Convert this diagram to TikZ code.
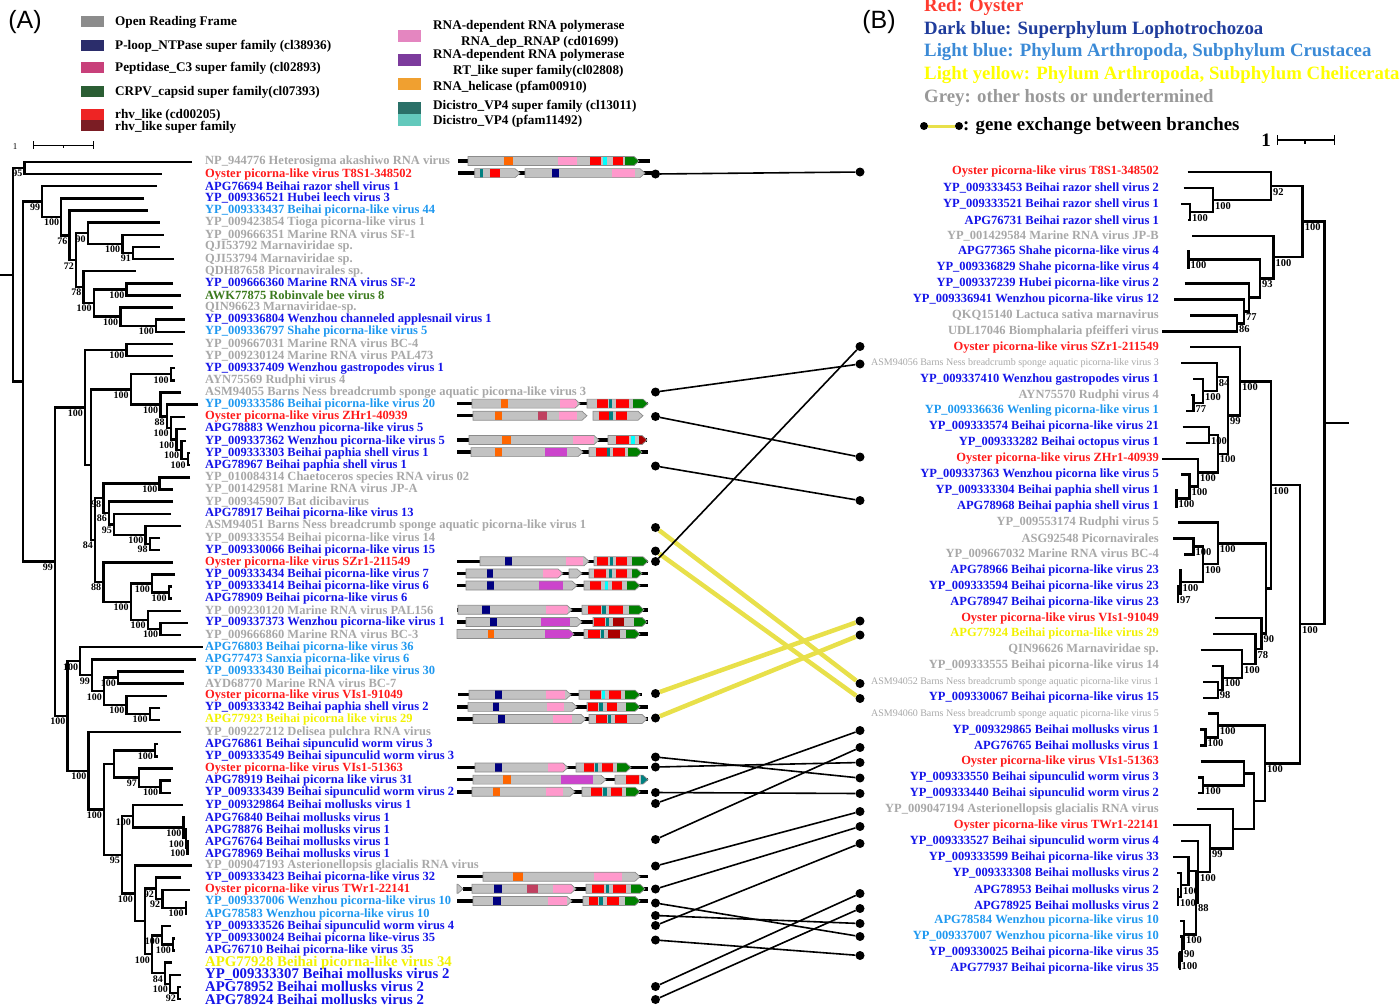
\documentclass[tikz,border=0pt]{standalone}
\usepackage{fontspec}
\setmainfont{Liberation Serif}
\newfontfamily\panelfont{Liberation Sans}
\usetikzlibrary{calc}

% host colours
\definecolor{oyster}{HTML}{FF1A1A}
\definecolor{lopho}{HTML}{1414E8}
\definecolor{crust}{HTML}{1E98F0}
\definecolor{chelic}{HTML}{F2F200}
\definecolor{other}{HTML}{A8A8A8}
\definecolor{insect}{HTML}{3C7A1E}
% genome map colours
\definecolor{orfgrey}{HTML}{C2C2C2}
\definecolor{orfedge}{HTML}{8C8C8C}
\definecolor{helic}{HTML}{FF6600}
\definecolor{rdrp}{HTML}{FF99CC}
\definecolor{rtlike}{HTML}{CC44CC}
\definecolor{rhv}{HTML}{FF0000}
\definecolor{rhvsup}{HTML}{AA0000}
\definecolor{vpfour}{HTML}{008080}
\definecolor{vplight}{HTML}{00FFFF}
\definecolor{capsid}{HTML}{008000}
\definecolor{ploop}{HTML}{000080}
\definecolor{pept}{HTML}{C04060}
% key colours
\definecolor{kgrey}{HTML}{8C8C8C}
\definecolor{knavy}{HTML}{2B2D6B}
\definecolor{kpept}{HTML}{C8407A}
\definecolor{kcapsid}{HTML}{2B5E34}
\definecolor{krhv}{HTML}{EE2424}
\definecolor{krhvsup}{HTML}{7B1D24}
\definecolor{kpink}{HTML}{E486C0}
\definecolor{kpurple}{HTML}{7C3B9C}
\definecolor{korange}{HTML}{F0A030}
\definecolor{kteal}{HTML}{2A7068}
\definecolor{klteal}{HTML}{63C9BC}
\definecolor{kred}{HTML}{FF3B2F}
\definecolor{kblue}{HTML}{1F3C9C}
\definecolor{klblue}{HTML}{3B8AD6}
\definecolor{kyellow}{HTML}{FFFF00}
\definecolor{khost}{HTML}{999999}
\definecolor{gx}{HTML}{E8E04A}

\tikzset{
  branch/.style={line width=2.4pt},
  lab/.style={anchor=west, inner sep=0pt, font=\fontsize{12.5}{13}\selectfont\bfseries},
  labbig/.style={anchor=west, inner sep=0pt, font=\fontsize{14.8}{15}\selectfont\bfseries},
  rlab/.style={anchor=east, inner sep=0pt, font=\fontsize{12.5}{13}\selectfont\bfseries},
  rsmall/.style={anchor=east, inner sep=0pt, font=\fontsize{10}{10}\selectfont},
  keytext/.style={anchor=west, inner sep=0pt, font=\fontsize{13.2}{14}\selectfont\bfseries},
  hosttext/.style={anchor=west, inner sep=0pt, font=\fontsize{18.8}{19}\selectfont\bfseries},
  panel/.style={inner sep=0pt, font=\fontsize{25}{26}\selectfont\panelfont},
  backbone/.style={line width=3.5pt},
  orfline/.style={draw=orfedge, line width=0.7pt},
  dot/.style={circle, fill=black, inner sep=0pt, minimum size=9pt},
  link/.style={line width=1.6pt},
  xlink/.style={line width=4.5pt, gx},
}

\newcommand\ly[1]{162+12.13*(#1-1)}
\newcommand\ry[1]{172+15.93*(#1-1)}
\newcommand\fork[5]{%
  \path let \p1=($(#3)!.5!(#4)$), \p2=(#2,0) in coordinate (#1) at (\x2,\y1);
  \draw[branch] (#3) -| (#1) |- (#4);
  \node[boot] at (#1) {#5};}
\newcommand\gmap[5]{%
  \pgfmathsetmacro\gy{162+12.13*(#1-1)-1}
  \draw[backbone] (#2,\gy) -- (#3,\gy);
  \begin{scope}
    \clip foreach \a/\b in {#4} {(\a,{\gy-4.5}) -- ({\b-5},{\gy-4.5}) -- (\b,\gy) -- ({\b-5},{\gy+4.5}) -- (\a,{\gy+4.5}) -- cycle};
    \fill[orfgrey] (440,{\gy-6}) rectangle (660,{\gy+6});
    \foreach \a/\b/\c in {#5} {\fill[\c] (\a,{\gy-4.5}) rectangle (\b,{\gy+4.5});}
  \end{scope}
  \draw[orfline] foreach \a/\b in {#4} {(\a,{\gy-4.5}) -- ({\b-5},{\gy-4.5}) -- (\b,\gy) -- ({\b-5},{\gy+4.5}) -- (\a,{\gy+4.5}) -- cycle};}

\begin{document}
\begin{tikzpicture}[x=1pt,y=-1pt]
\useasboundingbox (0,0) rectangle (1400,1005);

% (A) key
\node[panel] (pa) at (25,22) {(A)};
\foreach \y/\c/\s in {16/kgrey/Open Reading Frame, 40/knavy/P-loop\_NTPase super family (cl38936),
    62/kpept/Peptidase\_C3 super family (cl02893), 86/kcapsid/CRPV\_capsid super family(cl07393)}
  {\fill[\c] (81,\y) rectangle (104,\y+11);
   \node[keytext] at (115,\y+6) {\s};}
\fill[krhv] (81,109) rectangle (104,120);
\fill[krhvsup] (81,120) rectangle (104,131);
\node[keytext] at (115,115.5) {rhv\_like (cd00205)};
\node[keytext] at (115,127.5) {rhv\_like super family};
\fill[kpink] (398,30) rectangle (421,42);
\node[keytext] at (433,26.5) {RNA-dependent RNA polymerase};
\node[keytext] at (461,42.5) {RNA\_dep\_RNAP (cd01699)};
\fill[kpurple] (398,54) rectangle (421,66);
\node[keytext] at (433,55) {RNA-dependent RNA polymerase};
\node[keytext] at (453,71) {RT\_like super family(cl02808)};
\fill[korange] (398,78) rectangle (421,90);
\node[keytext] at (433,87) {RNA\_helicase (pfam00910)};
\fill[kteal] (398,102) rectangle (421,114);
\fill[klteal] (398,114) rectangle (421,126);
\node[keytext] at (433,106.5) {Dicistro\_VP4 super family (cl13011)};
\node[keytext] at (433,121) {Dicistro\_VP4 (pfam11492)};

% (B) key
\node[panel] (pb) at (879,22) {(B)};
\node[hosttext, text=kred] at (924,7.5) {Red: Oyster};
\node[hosttext, text=kblue] at (924,30) {Dark blue: Superphylum Lophotrochozoa};
\node[hosttext, text=klblue] at (924,52.5) {Light blue: Phylum Arthropoda, Subphylum Crustacea};
\node[hosttext, text=kyellow] at (924,75) {Light yellow: Phylum Arthropoda, Subphylum Chelicerata};
\node[hosttext, text=khost] at (924,98) {Grey: other hosts or undertermined};
\node[dot, minimum size=8pt] (ka) at (924,126) {};
\node[dot, minimum size=8pt] (kb) at (959,126) {};
\draw[line width=3pt, gx] (ka) -- (kb);
\node[hosttext] at (963,126) {: gene exchange between branches};

% scale bars
\node[inner sep=0pt, font=\fontsize{9}{9}\selectfont] at (15,147) {1};
\draw[line width=1pt] (33,141) -- (33,149) (33,145) -- (93,145) (93,141) -- (93,149) (63,145) -- (63,148);
\node[inner sep=0pt, font=\fontsize{19}{19}\selectfont\bfseries] at (1266,140) {1};
\draw[line width=1.3pt] (1277.5,135) -- (1277.5,145) (1277.5,140) -- (1334.5,140) (1334.5,135) -- (1334.5,145) (1305,140) -- (1305,144);

% left tree leaves
\foreach \r/\t/\c/\s in {
 1/192/other/{NP\_944776 Heterosigma akashiwo RNA virus},
 2/161.6/oyster/{Oyster picorna-like virus T8S1-348502},
 3/157/lopho/{APG76694 Beihai razor shell virus 1},
 4/144.3/lopho/{YP\_009336521 Hubei leech virus 3},
 5/147.7/crust/{YP\_009333437 Beihai picorna-like virus 44},
 6/159.5/other/{YP\_009423854 Tioga picorna-like virus 1},
 7/163.7/other/{YP\_009666351 Marine RNA virus SF-1},
 8/159.5/other/{QJI53792 Marnaviridae sp.},
 9/173.8/other/{QJI53794 Marnaviridae sp.},
 10/135.9/other/{QDH87658 Picornavirales sp.},
 11/173/lopho/{YP\_009666360 Marine RNA virus SF-2},
 12/181.4/insect/{AWK77875 Robinvale bee virus 8},
 13/173/other/{QIN96623 Marnaviridae-sp.},
 14/184.8/lopho/{YP\_009336804 Wenzhou channeled applesnail virus 1},
 15/184.8/crust/{YP\_009336797 Shahe picorna-like virus 5},
 16/173/other/{YP\_009667031 Marine RNA virus BC-4},
 17/173/other/{YP\_009230124 Marine RNA virus PAL473},
 18/175/lopho/{YP\_009337409 Wenzhou gastropodes virus 1},
 19/175/other/{AYN75569 Rudphi virus 4},
 20/181.4/other/{ASM94055 Barns Ness breadcrumb sponge aquatic picorna-like virus 3},
 21/198.3/crust/{YP\_009333586 Beihai picorna-like virus 20},
 22/185/oyster/{Oyster picorna-like virus ZHr1-40939},
 23/186/lopho/{APG78883 Wenzhou picorna-like virus 5},
 24/186/lopho/{YP\_009337362 Wenzhou picorna-like virus 5},
 25/190/lopho/{YP\_009333303 Beihai paphia shell virus 1},
 26/190/lopho/{APG78967 Beihai paphia shell virus 1},
 27/190/other/{YP\_010084314 Chaetoceros species RNA virus 02},
 28/173/other/{YP\_001429581 Marine RNA virus JP-A},
 29/173/other/{YP\_009345907 Bat dicibavirus},
 30/171/lopho/{APG78917 Beihai picorna-like virus 13},
 31/181.4/other/{ASM94051 Barns Ness breadcrumb sponge aquatic picorna-like virus 1},
 32/160/other/{YP\_009333554 Beihai picorna-like virus 14},
 33/160/lopho/{YP\_009330066 Beihai picorna-like virus 15},
 34/173/oyster/{Oyster picorna-like virus SZr1-211549},
 35/175/lopho/{YP\_009333434 Beihai picorna-like virus 7},
 36/172/lopho/{YP\_009333414 Beihai picorna-like virus 6},
 37/172/lopho/{APG78909 Beihai picorna-like virus 6},
 38/180.6/other/{YP\_009230120 Marine RNA virus PAL156},
 39/187.8/lopho/{YP\_009337373 Wenzhou picorna-like virus 1},
 40/181.4/other/{YP\_009666860 Marine RNA virus BC-3},
 41/202.5/crust/{APG76803 Beihai picorna-like virus 36},
 42/196/crust/{APG77473 Sanxia picorna-like virus 6},
 43/183.5/crust/{YP\_009333430 Beihai picorna-like virus 30},
 44/183.5/other/{AYD68770 Marine RNA virus BC-7},
 45/166.7/oyster/{Oyster picorna-like virus VIs1-91049},
 46/160.3/lopho/{YP\_009333342 Beihai paphia shell virus 2},
 47/160.3/chelic/{APG77923 Beihai picorna like virus 29},
 48/181.4/other/{YP\_009227212 Delisea pulchra RNA virus},
 49/157.5/lopho/{APG76861 Beihai sipunculid worm virus 3},
 50/157.5/lopho/{YP\_009333549 Beihai sipunculid worm virus 3},
 51/173/oyster/{Oyster picorna-like virus VIs1-51363},
 52/171/lopho/{APG78919 Beihai picorna like virus 31},
 53/171/lopho/{YP\_009333439 Beihai sipunculid worm virus 2},
 54/183/lopho/{YP\_009329864 Beihai mollusks virus 1},
 55/185/lopho/{APG76840 Beihai mollusks virus 1},
 56/187/lopho/{APG78876 Beihai mollusks virus 1},
 57/189/lopho/{APG76764 Beihai mollusks virus 1},
 58/189/lopho/{APG78969 Beihai mollusks virus 1},
 59/192/other/{YP\_009047193 Asterionellopsis glacialis RNA virus},
 60/181.4/lopho/{YP\_009333423 Beihai picorna-like virus 32},
 61/190/oyster/{Oyster picorna-like virus TWr1-22141},
 62/187/crust/{YP\_009337006 Wenzhou picorna-like virus 10},
 63/187/crust/{APG78583 Wenzhou picorna-like virus 10},
 64/171/lopho/{YP\_009333526 Beihai sipunculid worm virus 4},
 65/175/lopho/{YP\_009330024 Beihai picorna like-virus 35},
 66/175/lopho/{APG76710 Beihai picorna-like virus 35}}
 {\coordinate (L\r) at (\t,{\ly{\r}});
  \node[lab, text=\c] (tl\r) at (205,{\ly{\r}}) {\s};}
\foreach \r/\t/\c/\s in {
 67/172/chelic/{APG77928 Beihai picorna-like virus 34},
 68/181/lopho/{YP\_009333307 Beihai mollusks virus 2},
 69/181/lopho/{APG78952 Beihai mollusks virus 2},
 70/181/lopho/{APG78924 Beihai mollusks virus 2}}
 {\coordinate (L\r) at (\t,{\ly{\r}});
  \node[labbig, text=\c] (tl\r) at (205,{\ly{\r}}) {\s};}

% left tree
\begin{scope}[boot/.style={anchor=north east, inner sep=0.5pt, xshift=-1.5pt, yshift=-1.5pt, font=\fontsize{10}{10}\selectfont\bfseries}]
\fork{n95}{24.5}{L1}{L2}{95}
\fork{n91}{133}{L8}{L9}{91}
\fork{na100}{122.4}{L7}{n91}{100}
\fork{n90}{87.8}{L6}{na100}{90}
\fork{nc100}{126.6}{L11}{L12}{100}
\fork{ne100}{156}{L14}{L15}{100}
\fork{nd100}{120.3}{L13}{ne100}{100}
\fork{nb100}{93.7}{nc100}{nd100}{100}
\fork{n78}{83.5}{L10}{nb100}{78}
\fork{n72}{76}{n90}{n78}{72}
\fork{n76}{69.6}{L5}{n72}{76}
\fork{nt100}{61.2}{L4}{n76}{100}
\fork{n99t}{42.2}{L3}{nt100}{99}
\fork{n1617}{126.6}{L16}{L17}{100}
\fork{n1819}{170.9}{L18}{L19}{100}
\fork{nF}{187.8}{L25}{L26}{100}
\fork{nE}{181.4}{L24}{nF}{100}
\fork{nD}{176.4}{L23}{nE}{100}
\fork{nC}{170.9}{L22}{nD}{100}
\fork{nB}{166.7}{L21}{nC}{88}
\fork{nA}{160.3}{L20}{nB}{100}
\fork{nX}{130.8}{n1819}{nA}{100}
\fork{n2728}{159.5}{L27}{L28}{100}
\fork{n3233}{149.8}{L32}{L33}{98}
\fork{n3133}{145.6}{L31}{n3233}{100}
\fork{n95b}{114}{L30}{n3133}{95}
\fork{n86}{109}{L29}{n95b}{86}
\fork{n98}{103.4}{n2728}{n86}{98}
\fork{n3637}{168.8}{L36}{L37}{100}
\fork{n3537}{152}{L35}{n3637}{100}
\fork{n3940}{160.3}{L39}{L40}{100}
\fork{n3840}{147.7}{L38}{n3940}{100}
\fork{n3540}{130.8}{n3537}{n3840}{100}
\fork{n88}{103.4}{L34}{n3540}{88}
\fork{n84}{95}{n98}{n88}{84}
\fork{nY}{91}{nX}{n84}{}
\fork{nT}{85}{n1617}{nY}{100}
\fork{n4344}{118}{L43}{L44}{100}
\fork{n4647}{149.8}{L46}{L47}{100}
\fork{n4547}{126.6}{L45}{n4647}{100}
\fork{n4347}{104}{n4344}{n4547}{100}
\fork{n4247}{92}{L42}{n4347}{99}
\fork{n4147}{80.2}{L41}{n4247}{100}
\fork{n4950}{155}{L49}{L50}{100}
\fork{n5253}{160.3}{L52}{L53}{100}
\fork{n5153}{139}{L51}{n5253}{97}
\fork{n4953}{114}{n4950}{n5153}{}
\fork{n5758}{187.5}{L57}{L58}{100}
\fork{n5658}{186}{L56}{n5758}{100}
\fork{n5558}{183.5}{L55}{n5658}{100}
\fork{n5458}{133}{L54}{n5558}{100}
\fork{n6263}{185.7}{L62}{L63}{100}
\fork{n6163}{162.4}{L61}{n6263}{92}
\fork{n6063}{156}{L60}{n6163}{92}
\fork{n6566}{173}{L65}{L66}{100}
\fork{n6466}{162}{L64}{n6566}{100}
\fork{n6970}{178}{L69}{L70}{92}
\fork{n6870}{170}{L68}{n6970}{100}
\fork{n6770}{165}{L67}{n6870}{84}
\fork{n6470}{152}{n6466}{n6770}{100}
\fork{n6070}{145}{n6063}{n6470}{}
\fork{n5970}{135}{L59}{n6070}{100}
\fork{n95c}{122}{n5458}{n5970}{95}
\fork{nZ}{104}{n4953}{n95c}{100}
\fork{n4870}{88.6}{L48}{nZ}{100}
\fork{nU}{67.5}{n4147}{n4870}{100}
\fork{n99b}{55}{nT}{nU}{99}
\fork{nB0}{23.2}{n99t}{n99b}{}
\fork{lroot}{12.7}{n95}{nB0}{}
\draw[branch] (lroot) -- ++(-13,0);
\end{scope}

% genome maps
\gmap{1}{458}{650}{468/639}{504/513/helic, 558/577/rdrp, 590/601/rhv, 602.5/606.5/vplight, 612.5/622.5/rhv, 625/640/capsid}
\gmap{2}{458}{656}{474.7/520, 525/645}{479.7/482.5/vpfour, 489.5/500/rhv, 552/559/ploop, 612/635/rdrp}
\gmap{21}{457}{648}{472/580, 587/648}{501/508/helic, 560/577/rdrp, 597/608/rhv, 609/612/vpfour, 616/629/rhv, 633/648/capsid}
\gmap{22}{457}{473}{473/587, 593/643}{495/502/helic, 538/547/pept, 559/577/rdrp, 599/609/rhv, 609/613/vpfour, 616/627/rhv}
\gmap{24}{457}{647}{469/599, 608/647}{502/511/helic, 573/594/rdrp, 616/629/rhv, 631/635/vplight, 639/646/rhvsup}
\gmap{25}{457}{648}{471/583, 589/642}{495/502/helic, 545/567/rtlike, 596/607/rhv, 607/610/vpfour, 613/625/rhv, 628/642/capsid}
\gmap{34}{457}{648}{480/589, 594/648}{505/512/ploop, 566/583/rdrp, 597/608/rhv, 609.5/612.5/vpfour, 616/627/rhv, 632/648/capsid}
\gmap{35}{457}{648}{466/563, 569/582, 589/642}{487/493/ploop, 543/561/rdrp, 594/606/rhv, 609/612/vpfour, 616/627/rhv, 632/642/capsid}
\gmap{36}{457}{648}{466/577, 584/640}{487/494/ploop, 539/563/rtlike, 590/601/rhv, 605/608/vplight, 612/622/rhv, 627/640/capsid}
\gmap{38}{457}{648}{458/572, 582/644}{482/490/ploop, 546/568/rdrp, 588/601/rhv, 602/606/vpfour, 609/623/rhv, 629/644/capsid}
\gmap{39}{457}{648}{466/582, 593/647}{490/497/ploop, 541/570/rtlike, 594/605/rhv, 606/609/vpfour, 613/624/rhvsup, 634/647/capsid}
\gmap{40}{457}{648}{457/574, 584/640}{488/494/helic, 545/573/rtlike, 588/600/rhv, 601/604/vpfour, 608/620/rhvsup, 626/640/capsid}
\gmap{45}{458}{642}{469/571, 579/640}{495/502/ploop, 546/565/rdrp, 590/601/rhv, 602/605/vplight, 609/621/rhv, 625/640/capsid}
\gmap{46}{457}{648}{468/577, 587/640}{493/499/ploop, 547/564/rdrp, 588/598/rhv, 599/603/vpfour, 607/617/rhv, 626/640/capsid}
\gmap{47}{457}{648}{473/586, 589/647}{498/505/ploop, 553/572/rdrp, 596/607/rhv, 608/611/vpfour, 615/627/rhv}
\gmap{51}{457}{648}{475/568, 576/631}{495/502/ploop, 548/565/rdrp, 584/594/rhv, 595/598/vpfour, 602/613/rhv, 617/631/capsid}
\gmap{52}{457}{648}{473/606, 615/648}{503/511/helic, 561/593/rtlike, 626/639/rhv, 641/648/vpfour}
\gmap{53}{457}{648}{472/575, 582/640}{493/500/helic, 546/563/rdrp, 591/602/rhv, 603/607/vpfour, 611/622/rhv, 626/640/capsid}
\gmap{60}{457}{648}{483/640}{513/523/helic, 594/622/rdrp}
\gmap{61}{463}{648}{457/463, 472/576, 586/645}{494/502/ploop, 527/538/pept, 553/573/rdrp, 592/604/rhv, 606/609/vpfour, 613/626/rhv, 631/645/capsid}
\gmap{62}{457}{648}{473/572, 583/640}{493/501/ploop, 548/567/rdrp, 589/598/rhv, 599/603/vpfour, 607/619/rhv, 625/640/capsid}

% right tree leaves
\foreach \r/\t/\c/\s in {
 1/1187.6/oyster/{Oyster picorna-like virus T8S1-348502},
 2/1183.7/lopho/{YP\_009333453 Beihai razor shell virus 2},
 3/1181/lopho/{YP\_009333521 Beihai razor shell virus 1},
 4/1188/lopho/{APG76731 Beihai razor shell virus 1},
 5/1192.4/other/{YP\_001429584 Marine RNA virus JP-B},
 6/1187/lopho/{APG77365 Shahe picorna-like virus 4},
 7/1187/lopho/{YP\_009336829 Shahe picorna-like virus 4},
 8/1184.7/lopho/{YP\_009337239 Hubei picorna-like virus 2},
 9/1174/lopho/{YP\_009336941 Wenzhou picorna-like virus 12},
 10/1190/other/{QKQ15140 Lactuca sativa marnavirus},
 11/1161.8/other/{UDL17046 Biomphalaria pfeifferi virus},
 12/1190/oyster/{Oyster picorna-like virus SZr1-211549},
 14/1193.4/lopho/{YP\_009337410 Wenzhou gastropodes virus 1},
 15/1191/other/{AYN75570 Rudphi virus 4},
 16/1186/crust/{YP\_009336636 Wenling picorna-like virus 1},
 17/1182.7/lopho/{YP\_009333574 Beihai picorna-like virus 21},
 18/1186/lopho/{YP\_009333282 Beihai octopus virus 1},
 19/1161.8/oyster/{Oyster picorna-like virus ZHr1-40939},
 20/1181/lopho/{YP\_009337363 Wenzhou picorna like virus 5},
 21/1175/lopho/{YP\_009333304 Beihai paphia shell virus 1},
 22/1175/lopho/{APG78968 Beihai paphia shell virus 1},
 23/1178/other/{YP\_009553174 Rudphi virus 5},
 24/1173/other/{ASG92548 Picornavirales},
 25/1183.7/other/{YP\_009667032 Marine RNA virus BC-4},
 26/1179/lopho/{APG78966 Beihai picorna-like virus 23},
 27/1177/lopho/{YP\_009333594 Beihai picorna-like virus 23},
 28/1177/lopho/{APG78947 Beihai picorna-like virus 23},
 29/1215/oyster/{Oyster picorna-like virus VIs1-91049},
 30/1212.8/chelic/{APG77924 Beihai picorna-like virus 29},
 31/1200.7/other/{QIN96626 Marnaviridae sp.},
 32/1211.8/other/{YP\_009333555 Beihai picorna-like virus 14},
 34/1203/lopho/{YP\_009330067 Beihai picorna-like virus 15},
 36/1200/lopho/{YP\_009329865 Beihai mollusks virus 1},
 37/1200/lopho/{APG76765 Beihai mollusks virus 1},
 38/1200.7/oyster/{Oyster picorna-like virus VIs1-51363},
 39/1198/lopho/{YP\_009333550 Beihai sipunculid worm virus 3},
 40/1198/lopho/{YP\_009333440 Beihai sipunculid worm virus 2},
 41/1197/other/{YP\_009047194 Asterionellopsis glacialis RNA virus},
 42/1173/oyster/{Oyster picorna-like virus TWr1-22141},
 43/1181/lopho/{YP\_009333527 Beihai sipunculid worm virus 4},
 44/1173/lopho/{YP\_009333599 Beihai picorna-like virus 33},
 45/1177/lopho/{YP\_009333308 Beihai mollusks virus 2},
 46/1177/lopho/{APG78953 Beihai mollusks virus 2},
 47/1177/lopho/{APG78925 Beihai mollusks virus 2},
 48/1180/crust/{APG78584 Wenzhou picorna-like virus 10},
 49/1180/crust/{YP\_009337007 Wenzhou picorna-like virus 10},
 50/1178.5/lopho/{YP\_009330025 Beihai picorna-like virus 35},
 51/1178.5/lopho/{APG77937 Beihai picorna-like virus 35}}
 {\coordinate (R\r) at (\t,{\ry{\r}});
  \node[rlab, text=\c] (tr\r) at (1159,{\ry{\r}}) {\s};}
\foreach \r/\t/\s in {
 13/1181/{ASM94056 Barns Ness breadcrumb sponge aquatic picorna-like virus 3},
 33/1203/{ASM94052 Barns Ness breadcrumb sponge aquatic picorna-like virus 1},
 35/1208/{ASM94060 Barns Ness breadcrumb sponge aquatic picorna-like virus 5}}
 {\coordinate (R\r) at (\t,{\ry{\r}});
  \node[rsmall, text=other] (tr\r) at (1159,{\ry{\r}}) {\s};}

% right tree
\begin{scope}[boot/.style={anchor=north west, inner sep=0.5pt, xshift=1.5pt, yshift=-1.5pt, font=\fontsize{10.5}{10.5}\selectfont\bfseries}]
\fork{r34}{1190}{R3}{R4}{100}
\fork{r24}{1212.8}{R2}{r34}{100}
\fork{r14}{1271}{R1}{r24}{92}
\fork{r67}{1188.5}{R6}{R7}{100}
\fork{r1011}{1237}{R10}{R11}{86}
\fork{r911}{1244}{R9}{r1011}{77}
\fork{r811}{1249}{R8}{r911}{}
\fork{r611}{1260}{r67}{r811}{93}
\fork{r511}{1273.5}{R5}{r611}{100}
\fork{r111}{1302.6}{r14}{r511}{100}
\fork{r1516}{1193.4}{R15}{R16}{77}
\fork{r1416}{1203}{R14}{r1516}{100}
\fork{r1316}{1216.7}{R13}{r1416}{84}
\fork{r1718}{1209}{R17}{R18}{100}
\fork{r2122}{1176.4}{R21}{R22}{100}
\fork{r2022}{1189.5}{R20}{r2122}{100}
\fork{r1922}{1198}{R19}{r2022}{100}
\fork{r1722}{1217.7}{r1718}{r1922}{100}
\fork{r1322}{1228}{r1316}{r1722}{99}
\fork{r1222}{1240}{R12}{r1322}{100}
\fork{r2425}{1193.4}{R24}{R25}{100}
\fork{r2728}{1178}{R27}{R28}{97}
\fork{r2628}{1180.5}{R26}{r2728}{100}
\fork{r2428}{1203}{r2425}{r2628}{100}
\fork{r2328}{1217.7}{R23}{r2428}{100}
\fork{r3334}{1217.7}{R33}{R34}{98}
\fork{r3234}{1222.5}{R32}{r3334}{100}
\fork{r3134}{1242}{R31}{r3234}{100}
\fork{r3034}{1255.5}{R30}{r3134}{78}
\fork{r2934}{1261.4}{R29}{r3034}{90}
\fork{r2334}{1266}{r2328}{r2934}{}
\fork{r1234}{1271}{r1222}{r2334}{100}
\fork{r3637}{1205.5}{R36}{R37}{100}
\fork{r3537}{1217.7}{R35}{r3637}{100}
\fork{r3940}{1203}{R39}{R40}{100}
\fork{r3840}{1244}{R38}{r3940}{}
\fork{r5051}{1179.5}{R50}{R51}{100}
\fork{r4951}{1182}{R49}{r5051}{90}
\fork{r4851}{1184}{R48}{r4951}{100}
\fork{r4647}{1178}{R46}{R47}{100}
\fork{r4547}{1181}{R45}{r4647}{100}
\fork{r4447}{1188.5}{R44}{r4547}{}
\fork{r4451}{1196}{r4447}{r4851}{88}
\fork{r4351}{1198}{R43}{r4451}{100}
\fork{r4251}{1210}{R42}{r4351}{99}
\fork{r4151}{1233}{R41}{r4251}{}
\fork{r3851}{1254}{r3840}{r4151}{}
\fork{r3551}{1265}{r3537}{r3851}{100}
\fork{r1251}{1300}{r1234}{r3551}{100}
\fork{rroot}{1324.5}{r111}{r1251}{}
\draw[branch] (rroot) -- ++(24.5,0);
\end{scope}

% gene exchange between the trees
\foreach \n/\y in {lT8S1/174, lASM55/392, lZHr1/416.5, lAPG67/466, lASM51/527.5, lYP66/551, lSZr1/561.5,
    lVIs91/693.5, lAPG23/718, lYP49/757, lVIs51/767, lYP39/792.5, lYP64/803.5, lAPG64/839.5, lYP93/866,
    lTWr1/889, lYP06/903, lAPG83/915.5, lYP26/925.5, lYP24/940, lAPG52/986.5, lAPG24/999.5}
  {\node[dot] (\n) at (655.5,\y) {};}
\foreach \n/\y in {rT8S1/172, rSZr1/346.5, rASM56/364, rZHr1/457, rAPG68/500.5, rVIs91/621, rAPG24/635,
    rASM52/683.5, rYP67/698.5, rYP65/730.5, rAPG65/747.5, rVIs51/762.5, rYP50/778, rYP40/793.5, rYP94/811.5,
    rTWr1/826.5, rYP27/843.5, rAPG53/893.5, rAPG25/908.5, rAPG84/923.5, rYP07/936.5, rYP25/955.5}
  {\node[dot] (\n) at (860,\y) {};}
\foreach \a/\b in {lASM51/rASM52, lYP66/rYP67, lVIs91/rVIs91, lAPG23/rAPG24}
  {\draw[xlink] (\a) -- (\b);}
\foreach \a/\b in {lT8S1/rT8S1, lASM55/rASM56, lZHr1/rZHr1, lAPG67/rAPG68, lSZr1/rSZr1, lYP49/rYP50,
    lVIs51/rVIs51, lYP39/rYP40, lYP64/rYP65, lAPG64/rAPG65, lYP93/rYP94, lTWr1/rTWr1, lYP26/rYP27,
    lYP06/rYP07, lAPG83/rAPG84, lYP24/rYP25, lAPG52/rAPG53, lAPG24/rAPG25}
  {\draw[link] (\a) -- (\b);}

\end{tikzpicture}
\end{document}
